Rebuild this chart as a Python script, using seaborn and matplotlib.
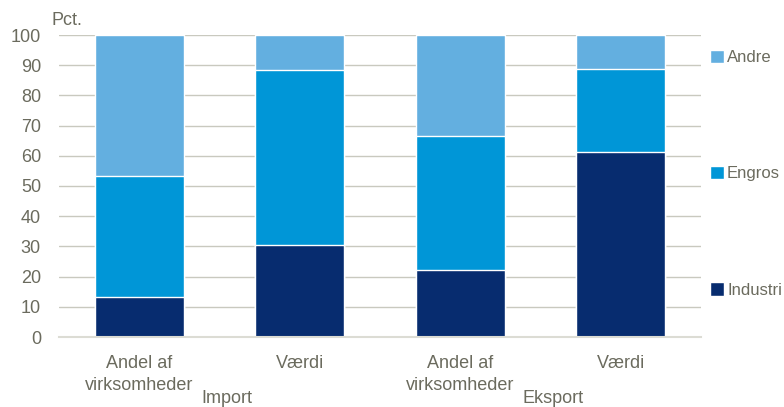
import pandas as pd
import seaborn as sns
import matplotlib.pyplot as plt

keys = ['imp_andel', 'imp_vaerdi', 'eks_andel', 'eks_vaerdi']
tick_labels = ['Andel af\nvirksomheder', 'Værdi', 'Andel af\nvirksomheder', 'Værdi']
groups = ['Import', 'Eksport']
industri = [13.3, 30.6, 22.3, 61.1]
engros = [40.1, 57.9, 44.1, 27.7]
andre = [46.6, 11.5, 33.6, 11.2]

df = pd.DataFrame({'key': keys, 'Industri': industri, 'Engros': engros, 'Andre': andre})
df['top_engros'] = df['Industri'] + df['Engros']
df['top_andre'] = df['top_engros'] + df['Andre']

colors = {'Andre': '#63afe0', 'Engros': '#0096d7', 'Industri': '#072c6f'}
txt = '#6b6b5e'

sns.set_style('white')
plt.rcParams['font.family'] = ['Liberation Sans', 'DejaVu Sans']

fig = plt.figure(figsize=(7.84, 4.07), dpi=100)
ax = fig.add_axes([59/784, 1 - 337/407, 642/784, 302/407])

w = 0.555
sns.barplot(data=df, x='key', y='top_andre', order=keys, color=colors['Andre'],
            width=w, saturation=1, ax=ax, label='Andre', zorder=2)
sns.barplot(data=df, x='key', y='top_engros', order=keys, color=colors['Engros'],
            width=w, saturation=1, ax=ax, label='Engros', zorder=2)
sns.barplot(data=df, x='key', y='Industri', order=keys, color=colors['Industri'],
            width=w, saturation=1, ax=ax, label='Industri', zorder=2)

ax.set_ylim(0, 100)
ax.set_xlim(-0.5, 3.5)
ax.set_yticks(range(0, 101, 10))
ax.yaxis.grid(True, color='#c9c9bf', linewidth=1, zorder=0)
ax.set_axisbelow(True)
for s in ['top', 'right', 'left']:
    ax.spines[s].set_visible(False)
ax.spines['bottom'].set_color('#dcdcd4')
ax.spines['bottom'].set_linewidth(1.5)
ax.tick_params(length=0, labelsize=13, colors=txt)
ax.tick_params(axis='y', pad=13)
ax.set_xticks(range(4))
ax.set_xticklabels(tick_labels, linespacing=1.35)
ax.tick_params(axis='x', pad=13)
ax.set_xlabel('')
ax.set_ylabel('')

ax.text(-0.011, 1.02, 'Pct.', transform=ax.transAxes, fontsize=13, color=txt,
        ha='left', va='bottom')

# group labels under the category labels
for xpos, g in zip([0.547, 2.578], groups):
    ax.annotate(g, xy=(xpos, 0), xycoords=('data', 'axes fraction'), xytext=(0, -44),
                textcoords='offset points', fontsize=13, color=txt, ha='center', va='center')

h, l = ax.get_legend_handles_labels()
leg = ax.legend(h, l, loc='upper left', bbox_to_anchor=(1.003, 0.973), frameon=False,
                borderaxespad=0, labelspacing=6.05, handlelength=0.85, handleheight=0.85,
                handletextpad=0.2, fontsize=12)
for t in leg.get_texts():
    t.set_color(txt)

fig.savefig('out.png', dpi=100)
